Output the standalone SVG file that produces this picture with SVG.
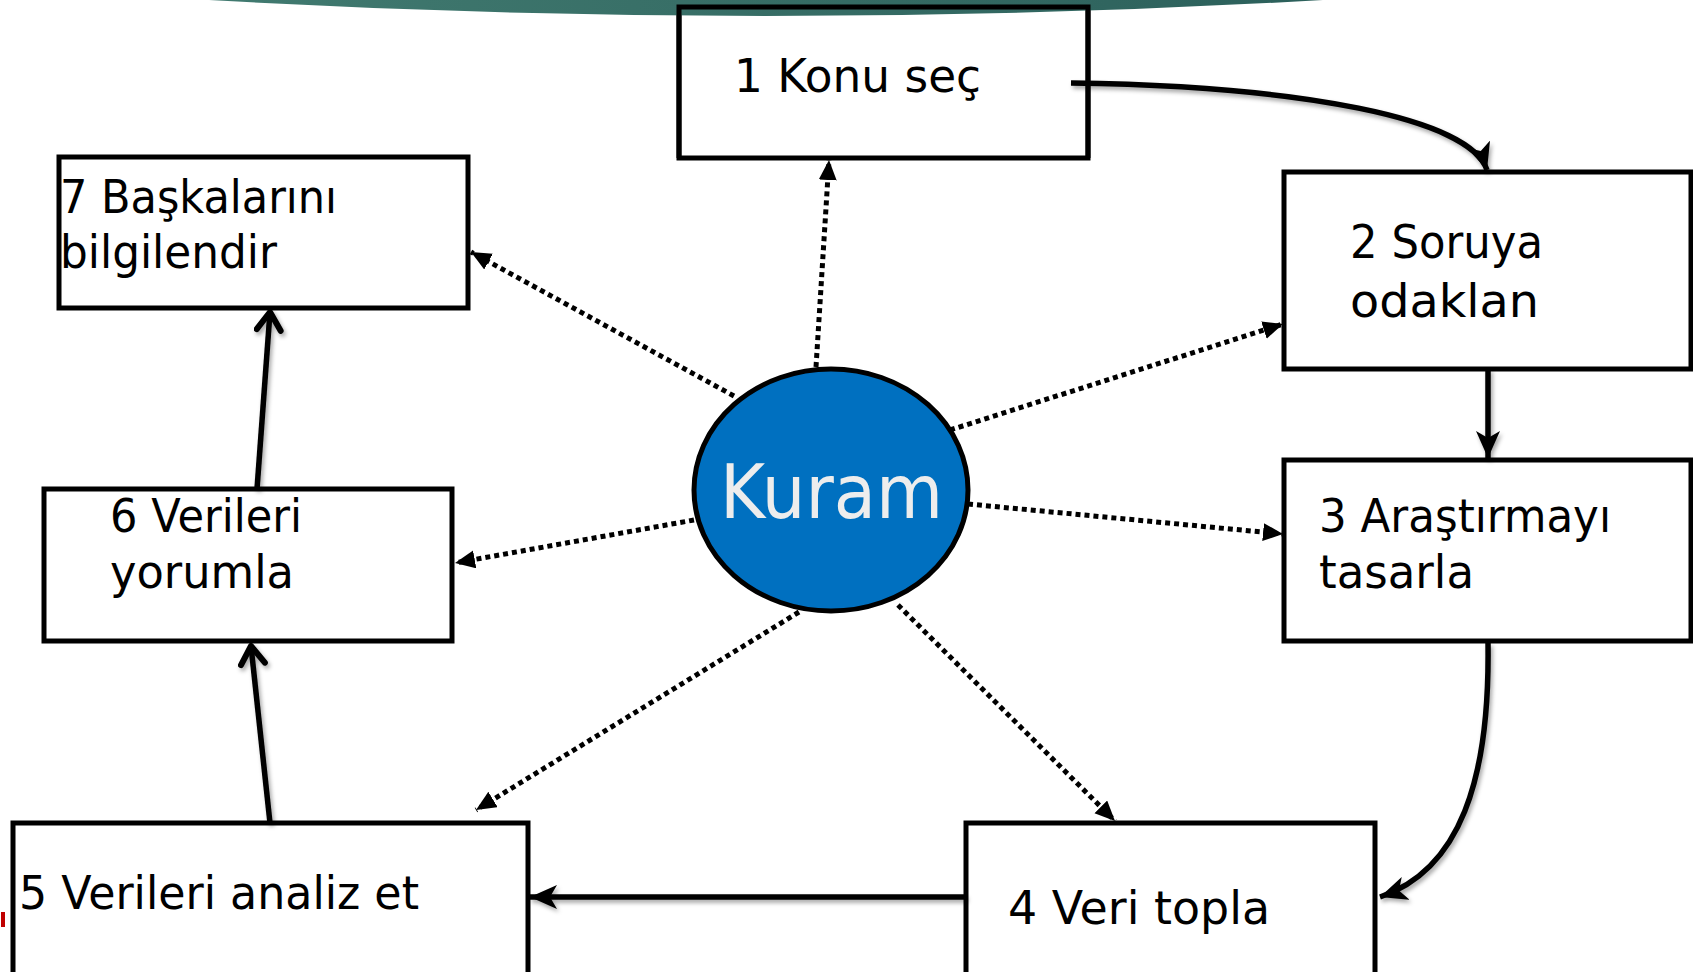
<svg xmlns="http://www.w3.org/2000/svg" width="1693" height="972" viewBox="0 0 1693 972">
<style>
.box{fill:#fff;stroke:#000;stroke-width:5}
.lbl{font-family:"DejaVu Sans","Liberation Sans",sans-serif;font-size:46px;fill:#000}
.solid{fill:none;stroke:#000;stroke-width:5.5;filter:url(#sh)}
.dot{fill:none;stroke:#000;stroke-width:5;stroke-dasharray:5 4}
</style>
<defs>
<linearGradient id="teal" x1="0" y1="0" x2="1" y2="0">
<stop offset="0" stop-color="#417A70"/>
<stop offset="1" stop-color="#2C605B"/>
</linearGradient>
<filter id="sh" filterUnits="userSpaceOnUse" x="0" y="0" width="1693" height="972">
<feDropShadow dx="2" dy="3" stdDeviation="2" flood-color="#000" flood-opacity="0.35"/>
</filter>
<marker id="stealth" markerUnits="userSpaceOnUse" markerWidth="30" markerHeight="26" refX="27" refY="12" orient="auto">
<path d="M0,0 L27,12 L0,24 L7,12 Z" fill="#000"/>
</marker>
<marker id="open" markerUnits="userSpaceOnUse" markerWidth="30" markerHeight="32" refX="22" refY="15" orient="auto">
<path d="M4,3 L22,15 L4,27" fill="none" stroke="#000" stroke-width="6" stroke-linecap="round" stroke-linejoin="round"/>
</marker>
<marker id="tri" markerUnits="userSpaceOnUse" markerWidth="22" markerHeight="20" refX="20" refY="9" orient="auto">
<path d="M0,0 L20,9 L0,18 Z" fill="#000"/>
</marker>
</defs>
<rect width="1693" height="972" fill="#fff"/>

<g id="node1">
<rect class="box" x="679" y="7" width="409" height="151"/>
<path d="M209,0 Q766,32 1323,0 Z" fill="url(#teal)"/>
<path d="M679,158 L679,7 L1088,7 L1088,158" fill="none" stroke="#000" stroke-width="5"/>
<text class="lbl" x="734" y="92" textLength="247" lengthAdjust="spacingAndGlyphs">1 Konu seç</text>
</g>
<g id="node2">
<rect class="box" x="1284" y="172" width="407" height="197"/>
<text class="lbl" x="1350" y="258" textLength="193" lengthAdjust="spacingAndGlyphs">2 Soruya</text>
<text class="lbl" x="1350" y="317" textLength="189" lengthAdjust="spacingAndGlyphs">odaklan</text>
</g>
<g id="node3">
<rect class="box" x="1284" y="460" width="407" height="181"/>
<text class="lbl" x="1319" y="532" textLength="292" lengthAdjust="spacingAndGlyphs">3 Araştırmayı</text>
<text class="lbl" x="1319" y="588" textLength="155" lengthAdjust="spacingAndGlyphs">tasarla</text>
</g>
<g id="node4">
<rect class="box" x="966" y="823" width="409" height="152"/>
<text class="lbl" x="1008" y="924" textLength="262" lengthAdjust="spacingAndGlyphs">4 Veri topla</text>
</g>
<g id="node5">
<rect class="box" x="13" y="823" width="515" height="152"/>
<text class="lbl" x="19" y="909" textLength="400" lengthAdjust="spacingAndGlyphs">5 Verileri analiz et</text>
</g>
<g id="node6">
<rect class="box" x="44" y="489" width="408" height="152"/>
<text class="lbl" x="110" y="532" textLength="192" lengthAdjust="spacingAndGlyphs">6 Verileri</text>
<text class="lbl" x="110" y="588" textLength="184" lengthAdjust="spacingAndGlyphs">yorumla</text>
</g>
<g id="node7">
<rect class="box" x="59" y="157" width="409" height="151"/>
<text class="lbl" x="60" y="213" textLength="277" lengthAdjust="spacingAndGlyphs">7 Başkalarını</text>
<text class="lbl" x="60" y="268" textLength="217" lengthAdjust="spacingAndGlyphs">bilgilendir</text>
</g>

<g id="connectors">
<path class="solid" d="M1071,83 C1300,86 1470,118 1487,170" marker-end="url(#stealth)"/>
<path class="solid" d="M1488,369 L1488,458" marker-end="url(#stealth)"/>
<path class="solid" d="M1488,643 C1490,780 1460,870 1380,897" marker-end="url(#stealth)"/>
<path class="solid" d="M966,897 L530,897" marker-end="url(#stealth)"/>
<path class="solid" d="M270,823 L251,646" marker-end="url(#open)"/>
<path class="solid" d="M257,489 L270,312" marker-end="url(#open)"/>

<path class="dot" d="M816,367 L829,160" marker-end="url(#tri)"/>
<path class="dot" d="M950,430 L1283,324" marker-end="url(#tri)"/>
<path class="dot" d="M968,504 L1283,534" marker-end="url(#tri)"/>
<path class="dot" d="M898,605 L1115,821" marker-end="url(#tri)"/>
<path class="dot" d="M799,612 L476,810" marker-end="url(#tri)"/>
<path class="dot" d="M694,520 L455,563" marker-end="url(#tri)"/>
<path class="dot" d="M734,396 L471,252" marker-end="url(#tri)"/>
</g>

<g id="kuram">
<ellipse cx="831" cy="490" rx="137" ry="121" fill="#0070C0" stroke="#000" stroke-width="5"/>
<text x="720" y="518" font-family="DejaVu Sans, Liberation Sans, sans-serif" font-size="74" fill="#EDEDED" textLength="223" lengthAdjust="spacingAndGlyphs">Kuram</text>
</g>

<rect x="1" y="912" width="4" height="15" fill="#C00000"/>
</svg>
